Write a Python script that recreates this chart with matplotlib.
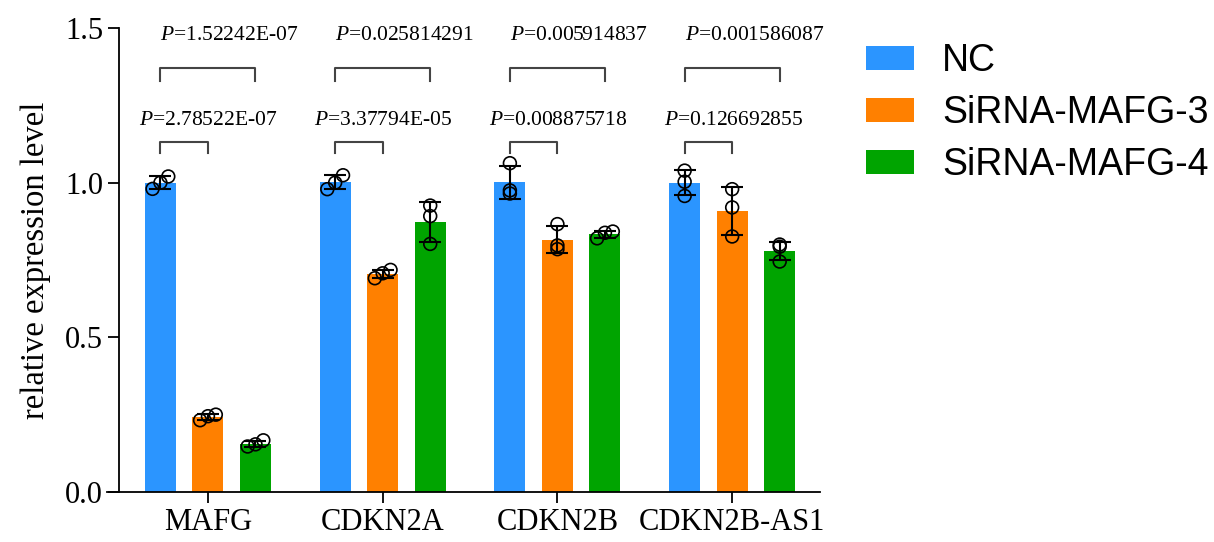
import numpy as np
import matplotlib.pyplot as plt

genes = ["MAFG", "CDKN2A", "CDKN2B", "CDKN2B-AS1"]
groups = ["NC", "SiRNA-MAFG-3", "SiRNA-MAFG-4"]
colors = ["#2b95ff", "#ff8000", "#00a400"]

# three replicates per gene
nc = [[0.980, 1.000, 1.020],
      [0.979, 1.000, 1.024],
      [1.063, 0.975, 0.965],
      [1.039, 1.003, 0.957]]
si3 = [[0.245, 0.232, 0.250],
       [0.691, 0.707, 0.718],
       [0.866, 0.797, 0.785],
       [0.979, 0.920, 0.826]]
si4 = [[0.154, 0.147, 0.167],
       [0.926, 0.892, 0.802],
       [0.820, 0.838, 0.842],
       [0.800, 0.793, 0.745]]

p_nc_si4 = ["1.52242E-07", "0.025814291", "0.005914837", "0.001586087"]
p_nc_si3 = ["2.78522E-07", "3.37794E-05", "0.008875718", "0.126692855"]

plt.rcParams['font.family'] = ['Liberation Serif', 'DejaVu Serif']
plt.rcParams['mathtext.fontset'] = 'custom'
plt.rcParams['mathtext.it'] = 'Liberation Serif:italic'
plt.rcParams['mathtext.rm'] = 'Liberation Serif'

fig = plt.figure(figsize=(12.14, 5.42), dpi=100)
ax = fig.add_axes([0.0881, 0.0923, 0.6755 - 0.0881, 0.9483 - 0.0923])

x = np.arange(len(genes))
offset = 0.272
width = 0.177

for k, data in enumerate([nc, si3, si4]):
    data = np.array(data)
    mean = data.mean(axis=1)
    sd = data.std(axis=1, ddof=1)
    pos = x + (k - 1) * offset
    ax.bar(pos, mean, width, color=colors[k], label=groups[k], zorder=1)
    ax.errorbar(pos, mean, yerr=sd, fmt='none', ecolor='black',
                elinewidth=1.5, capsize=8, capthick=1.5, zorder=2)
    for i in range(len(genes)):
        vals = data[i]
        if vals.max() - vals.min() < 0.05:
            order = np.argsort(np.argsort(vals))
            xs = pos[i] + (order - 1) * 0.045
        else:
            xs = np.full(3, pos[i])
        ax.scatter(xs, vals, s=85, facecolors='none', edgecolors='black',
                   linewidths=1.2, zorder=3)

# significance brackets
for i in range(len(genes)):
    left = x[i] - offset
    ax.plot([left, left, x[i] + offset, x[i] + offset],
            [1.328, 1.370, 1.370, 1.328], color='#444444', lw=1.5, clip_on=False)
    ax.plot([left, left, x[i], x[i]],
            [1.095, 1.133, 1.133, 1.095], color='#444444', lw=1.5, clip_on=False)
    ax.text(left, 1.445, '$\\it{P}$=' + p_nc_si4[i], fontsize=15.5,
            ha='left', va='bottom', clip_on=False)
    ax.text(left - 0.12, 1.17, '$\\it{P}$=' + p_nc_si3[i], fontsize=15.5,
            ha='left', va='bottom', clip_on=False)

ax.set_xlim(-0.578, 3.503)
ax.set_ylim(0, 1.5)
ax.spines['left'].set_position(('data', -0.509))
ax.spines['top'].set_visible(False)
ax.spines['right'].set_visible(False)
for s in ['left', 'bottom']:
    ax.spines[s].set_linewidth(1.3)

ax.set_xticks(x)
ax.set_xticklabels(genes, fontsize=22)
ax.set_yticks([0, 0.5, 1.0, 1.5])
ax.set_yticklabels(['0.0', '0.5', '1.0', '1.5'], fontsize=22)
ax.tick_params(axis='both', length=8, width=1.3)
ax.set_ylabel('relative expression level', fontsize=23.5, labelpad=10)

ax.legend(loc='upper left', bbox_to_anchor=(1.043, 1.0), frameon=False,
          prop={'family': 'Liberation Sans', 'size': 27},
          handlelength=1.28, handleheight=0.59, handletextpad=0.75,
          labelspacing=0.43, borderaxespad=0)

plt.savefig('out.png', dpi=100)
plt.close()
